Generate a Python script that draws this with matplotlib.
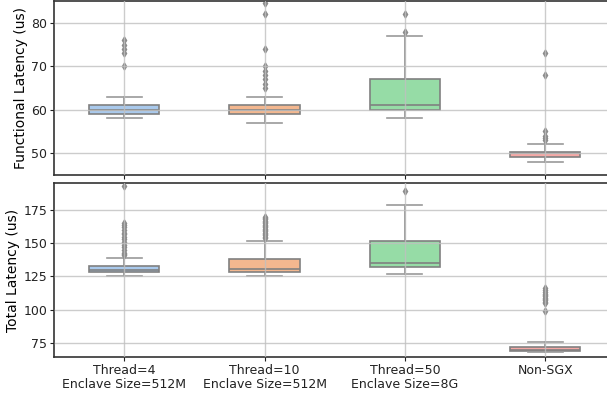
import matplotlib
matplotlib.use("Agg")
import matplotlib.pyplot as plt
import seaborn as sns

# groups on the x axis
labels = ["Thread=4\nEnclave Size=512M", "Thread=10\nEnclave Size=512M",
          "Thread=50\nEnclave Size=8G", "Non-SGX"]

# functional latency (us): box stats
func_q1 = [59, 59, 60, 49]
func_med = [60, 60, 61, 50]
func_q3 = [61, 61, 67, 50.2]
func_lo = [58, 57, 58, 48]
func_hi = [63, 63, 77, 52]
func_fliers = [
    [70, 73, 74, 75, 76],
    [65, 66, 67, 68, 69, 70, 74, 82, 84.7],
    [78, 82],
    [53, 53.5, 54, 55, 68, 73],
]

# total latency (us)
tot_q1 = [128, 128, 132, 69]
tot_med = [130, 130.5, 135, 70]
tot_q3 = [133, 138, 152, 72]
tot_lo = [125, 125, 127, 68]
tot_hi = [139, 152, 179, 76]
tot_fliers = [
    [141, 142, 143, 145, 147, 149, 151, 153, 155, 157, 158, 160, 162, 164, 165, 193],
    [154, 155, 156, 157, 158, 159, 160, 161, 162, 163, 164, 165, 166, 167, 168, 169, 170],
    [189],
    [99, 105, 106, 107, 108, 109, 110, 111, 112, 113, 115, 116],
]

colors = sns.color_palette("pastel", 4, desat=0.8)


def make_stats(q1, med, q3, lo, hi, fl):
    out = []
    for i in range(len(q1)):
        out.append({"q1": q1[i], "med": med[i], "q3": q3[i],
                    "whislo": lo[i], "whishi": hi[i], "fliers": fl[i]})
    return out


def draw(ax, stats):
    bp = ax.bxp(stats, positions=range(len(stats)), widths=0.5, patch_artist=True,
                boxprops=dict(edgecolor="#808080", linewidth=1.2),
                whiskerprops=dict(color="#8a8a8a", linewidth=1.2),
                capprops=dict(color="#9a9a9a", linewidth=1.2),
                medianprops=dict(color="#808080", linewidth=1.2),
                flierprops=dict(marker="d", markersize=3.5, markerfacecolor="#8a8a8a",
                                markeredgecolor="#8a8a8a"))
    for patch, c in zip(bp["boxes"], colors):
        patch.set_facecolor(c)
    ax.set_axisbelow(False)
    ax.grid(True, color="#c0c0c0", linewidth=1.0, alpha=0.8)
    ax.set_xlim(-0.5, 3.5)
    for s in ax.spines.values():
        s.set_color("#333333")
        s.set_linewidth(1.2)
    ax.tick_params(labelsize=9, colors="#222222", length=3, pad=2)


fig = plt.figure(figsize=(6.07, 3.94), dpi=100)
ax1 = fig.add_axes([0.089, 0.556, 0.925, 0.4416])
ax2 = fig.add_axes([0.089, 0.094, 0.925, 0.4416])

draw(ax1, make_stats(func_q1, func_med, func_q3, func_lo, func_hi, func_fliers))
ax1.set_ylim(44.9, 85.1)
ax1.set_yticks([50, 60, 70, 80])
ax1.set_xticks(range(4))
ax1.set_xticklabels([])
ax1.set_ylabel("Functional Latency (us)", fontsize=10, labelpad=2)

draw(ax2, make_stats(tot_q1, tot_med, tot_q3, tot_lo, tot_hi, tot_fliers))
ax2.set_ylim(64.5, 195.3)
ax2.set_yticks([75, 100, 125, 150, 175])
ax2.set_xticks(range(4))
ax2.set_xticklabels(labels, linespacing=1.1)
ax2.set_ylabel("Total Latency (us)", fontsize=10, labelpad=2)

fig.savefig("out.png", dpi=100)
